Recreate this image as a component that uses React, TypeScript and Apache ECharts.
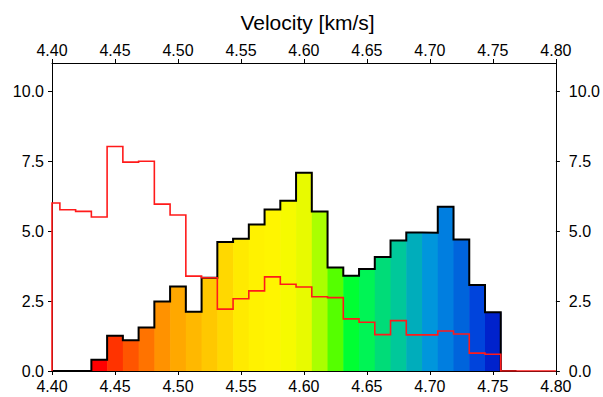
import React, { useEffect, useRef } from "react";
import * as echarts from "echarts";

// Velocity bin centres (km/s); every bin is BIN_WIDTH wide.
const BIN_CENTERS = [
  4.4, 4.4125, 4.425, 4.4375, 4.45, 4.4625, 4.475, 4.4875, 4.5, 4.5125, 4.525,
  4.5375, 4.55, 4.5625, 4.575, 4.5875, 4.6, 4.6125, 4.625, 4.6375, 4.65, 4.6625,
  4.675, 4.6875, 4.7, 4.7125, 4.725, 4.7375, 4.75, 4.7625, 4.775, 4.7875, 4.8,
];
const BIN_WIDTH = 0.0125;

// Filled histogram (black outline), one value per bin from the first centre on.
const MAIN_COUNTS = [
  0, 0, 0, 0.4, 1.26, 1.1, 1.55, 2.48, 3.02, 2.12, 3.33, 4.61, 4.72, 5.23, 5.77,
  6.08, 7.08, 5.7, 3.7, 3.4, 3.64, 4.07, 4.66, 4.95, 4.94, 5.87, 4.7, 3.07, 2.1, 0,
];

// Reference histogram (red outline).
const REF_COUNTS = [
  6.0, 5.76, 5.7, 5.5, 8.02, 7.46, 7.49, 5.96, 5.57, 3.39, 3.33, 2.21, 2.58,
  2.86, 3.36, 3.1, 3.0, 2.65, 2.62, 1.86, 1.74, 1.3, 1.8, 1.29, 1.29, 1.43,
  1.32, 0.64, 0.6, 0, 0, 0, 0,
];

// Rainbow fill for the non-empty bins, slow to fast.
const FILL_COLORS = [
  "#ff0000", "#ff3300", "#ff5500", "#ff7300", "#ff9200", "#ffa800", "#ffb800",
  "#ffc800", "#ffd800", "#ffea00", "#fff200", "#fff500", "#f6fa00", "#e8fa00",
  "#aaff00", "#55ff00", "#00ff33", "#00f455", "#00dc78", "#00c89a", "#00adbb",
  "#0096dc", "#007ee0", "#0064dc", "#0044dc", "#0022cc",
];

const X_TICKS_MIN = 4.4;
const X_TICKS_MAX = 4.8;
const Y_TICKS = [0, 2.5, 5, 7.5, 10];
const Y_MAX = 11;

const FONT = '"Liberation Sans", Arial, Helvetica, sans-serif';

// Outline of a histogram as a step path, clamped to the axis range.
function stepPath(values: number[]): number[][] {
  const pts: number[][] = [];
  values.forEach((v, i) => {
    const c = BIN_CENTERS[i];
    const l = Math.max(X_TICKS_MIN, c - BIN_WIDTH / 2);
    const r = Math.min(X_TICKS_MAX, c + BIN_WIDTH / 2);
    if (i === 0) pts.push([l, 0]);
    pts.push([l, v], [r, v]);
  });
  return pts;
}

export default function App() {
  const ref = useRef<HTMLDivElement>(null);

  useEffect(() => {
    if (!ref.current) return;
    const chart = echarts.init(ref.current, null, { renderer: "svg" });

    const filled: number[][] = [];
    MAIN_COUNTS.forEach((v, i) => {
      if (v > 0) filled.push([BIN_CENTERS[i], v]);
    });

    const axisLine = { show: true, onZero: false, lineStyle: { color: "#000", width: 1 } };
    const axisTick = { show: true, inside: false, length: 4, lineStyle: { color: "#000", width: 1 } };
    const labelBase = { color: "#000", fontSize: 16, fontFamily: FONT };

    const xAxisBase = {
      type: "value",
      min: X_TICKS_MIN,
      max: X_TICKS_MAX,
      interval: 0.05,
      axisLine,
      axisTick,
      splitLine: { show: false },
    };
    const yAxisBase = {
      type: "value",
      min: 0,
      max: Y_MAX,
      interval: 2.5,
      axisLine,
      axisTick: { ...axisTick, customValues: Y_TICKS },
      splitLine: { show: false },
    };

    chart.setOption({
      animation: false,
      backgroundColor: "#fff",
      title: {
        text: "Velocity [km/s]",
        left: 307.5,
        top: 12,
        padding: 0,
        textAlign: "center",
        textStyle: { fontSize: 21, fontWeight: "normal", color: "#000", fontFamily: FONT },
      },
      grid: { left: 52, right: 40, top: 63, bottom: 26, containLabel: false },
      xAxis: [
        {
          ...xAxisBase,
          position: "bottom",
          axisLabel: { ...labelBase, margin: 7, formatter: (v: number) => v.toFixed(2) },
        },
        {
          ...xAxisBase,
          position: "top",
          axisLabel: { ...labelBase, margin: 5, formatter: (v: number) => v.toFixed(2) },
        },
      ],
      yAxis: [
        {
          ...yAxisBase,
          position: "left",
          axisLabel: {
            ...labelBase,
            margin: 8,
            customValues: Y_TICKS,
            formatter: (v: number) => v.toFixed(1),
          },
        },
        {
          ...yAxisBase,
          position: "right",
          axisLabel: {
            ...labelBase,
            margin: 13,
            customValues: Y_TICKS,
            formatter: (v: number) => v.toFixed(1),
          },
        },
      ],
      series: [
        {
          type: "custom",
          xAxisIndex: 0,
          yAxisIndex: 0,
          data: filled,
          encode: { x: 0, y: 1 },
          z: 1,
          renderItem: (params: any, api: any) => {
            const c = api.value(0);
            const v = api.value(1);
            const p0 = api.coord([c - BIN_WIDTH / 2, 0]);
            const p1 = api.coord([c + BIN_WIDTH / 2, v]);
            return {
              type: "rect",
              shape: {
                x: p0[0],
                y: p1[1],
                width: p1[0] - p0[0] + 0.6,
                height: p0[1] - p1[1],
              },
              style: { fill: FILL_COLORS[params.dataIndex], stroke: null },
            };
          },
        },
        {
          type: "line",
          xAxisIndex: 0,
          yAxisIndex: 0,
          data: stepPath(MAIN_COUNTS),
          symbol: "none",
          clip: true,
          z: 3,
          lineStyle: { color: "#000", width: 2, join: "miter" },
        },
        {
          type: "line",
          xAxisIndex: 0,
          yAxisIndex: 0,
          data: stepPath(REF_COUNTS),
          symbol: "none",
          clip: true,
          z: 4,
          lineStyle: { color: "#ff1a1a", width: 1.6, join: "miter" },
        },
      ],
    });

    return () => chart.dispose();
  }, []);

  return (
    <div
      ref={ref}
      style={{ position: "fixed", left: 0, top: 0, width: 603, height: 397 }}
    />
  );
}
